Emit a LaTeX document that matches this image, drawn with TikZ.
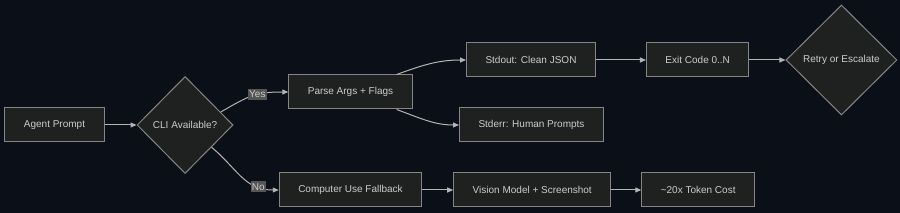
\documentclass[tikz,border=0pt]{standalone}
\usepackage{fontspec}
\setmainfont{Liberation Sans}
\usetikzlibrary{shapes.geometric, arrows.meta, positioning}
\definecolor{PageBg}{HTML}{0B0F17}
\definecolor{BoxFill}{HTML}{1F2020}
\definecolor{BoxLine}{HTML}{858585}
\definecolor{EdgeGray}{HTML}{B4B4B4}
\definecolor{TextGray}{HTML}{CCCCCC}
\definecolor{LabelFill}{HTML}{555555}

\begin{document}
\begin{tikzpicture}[
  x=1pt, y=-1pt,
  box/.style={rectangle, minimum height=34pt, inner xsep=19pt,
    text centered, font=\fontsize{10pt}{12pt}\selectfont, draw=BoxLine, line width=1pt,
    fill=BoxFill, text=TextGray},
  decide/.style={diamond, inner sep=0pt, font=\fontsize{10pt}{12pt}\selectfont,
    draw=BoxLine, line width=1pt, fill=BoxFill, text=TextGray},
  arrow/.style={-{Triangle[length=6pt, width=5pt]}, line width=1pt, color=EdgeGray},
  lbl/.style={fill=LabelFill, text=TextGray, inner xsep=1pt, inner ysep=2pt,
    font=\fontsize{10pt}{12pt}\selectfont}
]
\fill[PageBg] (0,0) rectangle (900,213);
\useasboundingbox (0,0) rectangle (900,213);

\node[box] (agent) at (54.5,125) {Agent Prompt};
\node[decide, minimum width=96pt, minimum height=97pt, right=32pt of agent] (cli) {CLI Available?};
\node[box] (parse) at (350.5,92) {Parse Args + Flags};
\node[box] (stdout) at (531,60) {Stdout: Clean JSON};
\node[box] (stderr) at (531.5,125) {Stderr: Human Prompts};
\node[box, right=50pt of stdout] (exit) {Exit Code 0..N};
\node[decide, minimum width=111pt, minimum height=110pt, right=36pt of exit] (retry) {Retry or Escalate};
\node[box] (comp) at (350.5,190) {Computer Use Fallback};
\node[box, right=31pt of comp] (vision) {Vision Model + Screenshot};
\node[box, right=30pt of vision] (token) {\textasciitilde20x Token Cost};

\draw[arrow] (agent) -- (cli);
\draw[arrow] (cli.20) to[out=30, in=180, looseness=1.2] node[lbl, pos=0.58] {Yes} (parse.west);
\draw[arrow] (cli.-40) to[out=-40, in=180, looseness=1.1] node[lbl, pos=0.76] {No} (comp.west);
\draw[arrow] ([xshift=-16pt]parse.north east) to[out=20, in=180] (stdout.west);
\draw[arrow] ([xshift=-16pt]parse.south east) to[out=-20, in=180] (stderr.west);
\draw[arrow] (stdout) -- (exit);
\draw[arrow] (exit) -- (retry);
\draw[arrow] (comp) -- (vision);
\draw[arrow] (vision) -- (token);
\end{tikzpicture}
\end{document}
